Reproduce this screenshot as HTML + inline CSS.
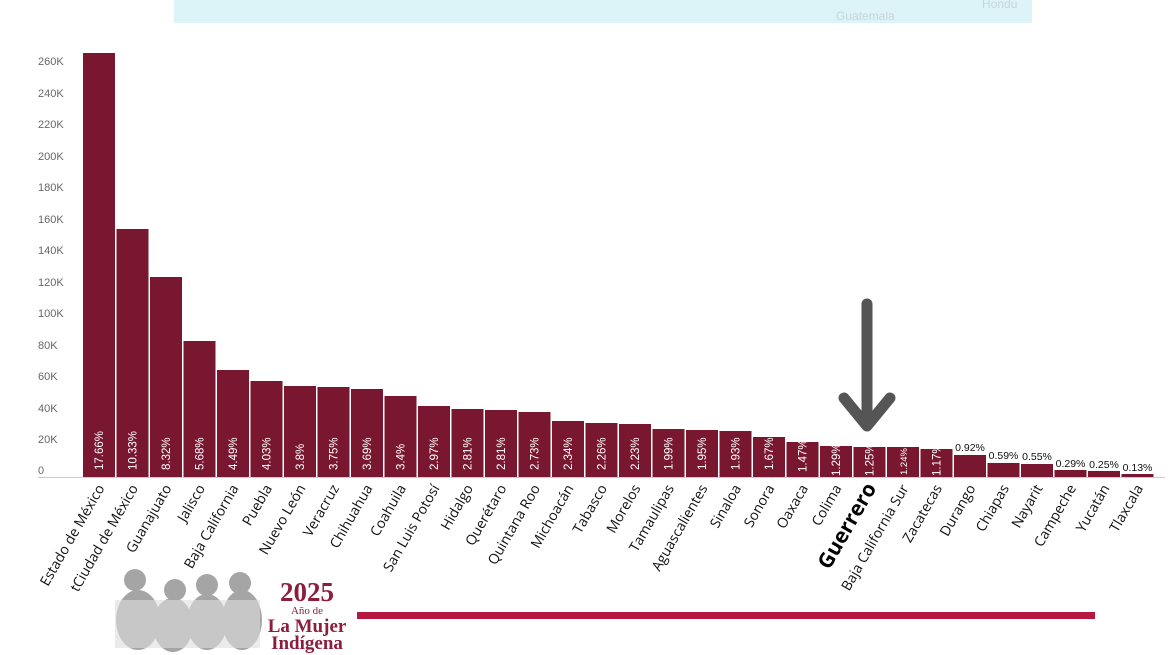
<!DOCTYPE html>
<html><head><meta charset="utf-8"><style>
body{margin:0;background:#fff;width:1170px;height:655px;overflow:hidden}
svg{display:block}
.x{font-family:"Open Sans","Liberation Sans",sans-serif;font-size:14px;fill:#111;text-anchor:end}
.p{font-family:"Liberation Sans",sans-serif;font-size:11.5px;fill:#fff}
.q{font-family:"Liberation Sans",sans-serif;font-size:10.5px;fill:#111;text-anchor:middle}
.y{font-family:"Liberation Sans",sans-serif;font-size:11px;fill:#666}
</style></head><body>
<svg width="1170" height="655" viewBox="0 0 1170 655">
<rect x="174" y="0" width="858" height="23" fill="#dcf4f8"/>
<text x="836" y="20" font-family="Liberation Sans" font-size="12" fill="#c8d4d8">Guatemala</text>
<text x="982" y="8" font-family="Liberation Sans" font-size="12" fill="#c8d4d8">Hondu</text>
<g class="y">
<text x="38" y="65">260K</text><text x="38" y="97">240K</text><text x="38" y="128">220K</text><text x="38" y="160">200K</text><text x="38" y="191">180K</text><text x="38" y="223">160K</text><text x="38" y="254">140K</text><text x="38" y="286">120K</text><text x="38" y="317">100K</text><text x="38" y="349">80K</text><text x="38" y="380">60K</text><text x="38" y="412">40K</text><text x="38" y="443">20K</text><text x="38" y="474">0</text>
</g>
<line x1="38" y1="477.5" x2="1165" y2="477.5" stroke="#ccc" stroke-width="1"/>
<g fill="#7a1730">
<rect x="83" y="53" width="32" height="424"/>
<rect x="116.5" y="229" width="32" height="248"/>
<rect x="150" y="277" width="32" height="200"/>
<rect x="183.5" y="341" width="32" height="136"/>
<rect x="217" y="370" width="32" height="107"/>
<rect x="250.5" y="381" width="32" height="96"/>
<rect x="284" y="386" width="32" height="91"/>
<rect x="317.5" y="387" width="32" height="90"/>
<rect x="351" y="389" width="32" height="88"/>
<rect x="384.5" y="396" width="32" height="81"/>
<rect x="418" y="406" width="32" height="71"/>
<rect x="451.5" y="409" width="32" height="68"/>
<rect x="485" y="410" width="32" height="67"/>
<rect x="518.5" y="412" width="32" height="65"/>
<rect x="552" y="421" width="32" height="56"/>
<rect x="585.5" y="423" width="32" height="54"/>
<rect x="619" y="424" width="32" height="53"/>
<rect x="652.5" y="429" width="32" height="48"/>
<rect x="686" y="430" width="32" height="47"/>
<rect x="719.5" y="431" width="32" height="46"/>
<rect x="753" y="437" width="32" height="40"/>
<rect x="786.5" y="442" width="32" height="35"/>
<rect x="820" y="446" width="32" height="31"/>
<rect x="853.5" y="447" width="32" height="30"/>
<rect x="887" y="447" width="32" height="30"/>
<rect x="920.5" y="449" width="32" height="28"/>
<rect x="954" y="455" width="32" height="22"/>
<rect x="987.5" y="463" width="32" height="14"/>
<rect x="1021" y="464" width="32" height="13"/>
<rect x="1054.5" y="470" width="32" height="7"/>
<rect x="1088" y="471" width="32" height="6"/>
<rect x="1121.5" y="474" width="32" height="3"/>
</g>
<g class="p">
<text transform="translate(103,470) rotate(-90)">17.66%</text>
<text transform="translate(136.5,470) rotate(-90)">10.33%</text>
<text transform="translate(170,470) rotate(-90)">8.32%</text>
<text transform="translate(203.5,470) rotate(-90)">5.68%</text>
<text transform="translate(237,470) rotate(-90)">4.49%</text>
<text transform="translate(270.5,470) rotate(-90)">4.03%</text>
<text transform="translate(304,470) rotate(-90)">3.8%</text>
<text transform="translate(337.5,470) rotate(-90)">3.75%</text>
<text transform="translate(371,470) rotate(-90)">3.69%</text>
<text transform="translate(404.5,470) rotate(-90)">3.4%</text>
<text transform="translate(438,470) rotate(-90)">2.97%</text>
<text transform="translate(471.5,470) rotate(-90)">2.81%</text>
<text transform="translate(505,470) rotate(-90)">2.81%</text>
<text transform="translate(538.5,470) rotate(-90)">2.73%</text>
<text transform="translate(572,470) rotate(-90)">2.34%</text>
<text transform="translate(605.5,470) rotate(-90)">2.26%</text>
<text transform="translate(639,470) rotate(-90)">2.23%</text>
<text transform="translate(672.5,470) rotate(-90)">1.99%</text>
<text transform="translate(706,470) rotate(-90)">1.95%</text>
<text transform="translate(739.5,470) rotate(-90)">1.93%</text>
<text transform="translate(773,470) rotate(-90)">1.67%</text>
<text transform="translate(806.5,472) rotate(-90)">1.47%</text>
<text transform="translate(840,476) rotate(-90)">1.29%</text>
<text transform="translate(873.5,476) rotate(-90)">1.25%</text>
<text transform="translate(907,475) rotate(-90)" font-size="9.5">1.24%</text>
<text transform="translate(940.5,476) rotate(-90)">1.17%</text>
</g>
<g class="q">
<text x="970" y="451">0.92%</text>
<text x="1003.5" y="459">0.59%</text>
<text x="1037" y="460">0.55%</text>
<text x="1070.5" y="467">0.29%</text>
<text x="1104" y="468">0.25%</text>
<text x="1137.5" y="471">0.13%</text>
</g>
<g class="x">
<text transform="translate(105,488) rotate(-60)">Estado de México</text>
<text transform="translate(138.5,488) rotate(-60)">tCiudad de México</text>
<text transform="translate(172,488) rotate(-60)">Guanajuato</text>
<text transform="translate(205.5,488) rotate(-60)">Jalisco</text>
<text transform="translate(239,488) rotate(-60)">Baja California</text>
<text transform="translate(272.5,488) rotate(-60)">Puebla</text>
<text transform="translate(306,488) rotate(-60)">Nuevo León</text>
<text transform="translate(339.5,488) rotate(-60)">Veracruz</text>
<text transform="translate(373,488) rotate(-60)">Chihuahua</text>
<text transform="translate(406.5,488) rotate(-60)">Coahuila</text>
<text transform="translate(440,488) rotate(-60)">San Luis Potosí</text>
<text transform="translate(473.5,488) rotate(-60)">Hidalgo</text>
<text transform="translate(507,488) rotate(-60)">Querétaro</text>
<text transform="translate(540.5,488) rotate(-60)">Quintana Roo</text>
<text transform="translate(574,488) rotate(-60)">Michoacán</text>
<text transform="translate(607.5,488) rotate(-60)">Tabasco</text>
<text transform="translate(641,488) rotate(-60)">Morelos</text>
<text transform="translate(674.5,488) rotate(-60)">Tamaulipas</text>
<text transform="translate(708,488) rotate(-60)">Aguascalientes</text>
<text transform="translate(741.5,488) rotate(-60)">Sinaloa</text>
<text transform="translate(775,488) rotate(-60)">Sonora</text>
<text transform="translate(808.5,488) rotate(-60)">Oaxaca</text>
<text transform="translate(842,488) rotate(-60)">Colima</text>
<text transform="translate(877,488) rotate(-60)" font-size="21" font-weight="bold" fill="#000">Guerrero</text>
<text transform="translate(909,488) rotate(-60)">Baja California Sur</text>
<text transform="translate(942.5,488) rotate(-60)">Zacatecas</text>
<text transform="translate(976,488) rotate(-60)">Durango</text>
<text transform="translate(1009.5,488) rotate(-60)">Chiapas</text>
<text transform="translate(1043,488) rotate(-60)">Nayarit</text>
<text transform="translate(1076.5,488) rotate(-60)">Campeche</text>
<text transform="translate(1110,488) rotate(-60)">Yucatán</text>
<text transform="translate(1143.5,488) rotate(-60)">Tlaxcala</text>
</g>
<g stroke="#555" stroke-width="11" stroke-linecap="round" stroke-linejoin="round" fill="none">
<line x1="867" y1="304" x2="867" y2="425"/>
<polyline points="844,398 867,426 890,398"/>
</g>
<g fill="#888" opacity="0.75">
<ellipse cx="138" cy="620" rx="22" ry="30"/>
<ellipse cx="173" cy="625" rx="20" ry="27"/>
<ellipse cx="207" cy="622" rx="20" ry="28"/>
<ellipse cx="242" cy="620" rx="20" ry="30"/>
<circle cx="135" cy="580" r="11"/><circle cx="175" cy="590" r="11"/><circle cx="207" cy="585" r="11"/><circle cx="240" cy="583" r="11"/>
</g>
<rect x="115" y="600" width="145" height="48" fill="#ddd" opacity="0.6"/>
<g font-family="Liberation Serif,serif" fill="#8c1d3c" text-anchor="middle" font-weight="bold">
<text x="307" y="601" font-size="27">2025</text>
<text x="307" y="614" font-size="11" font-weight="normal">Año de</text>
<text x="307" y="632" font-size="19">La Mujer</text>
<text x="307" y="649" font-size="19">Indígena</text>
</g>
<rect x="357" y="612" width="738" height="7" fill="#b8183f"/>
</svg>
</body></html>
